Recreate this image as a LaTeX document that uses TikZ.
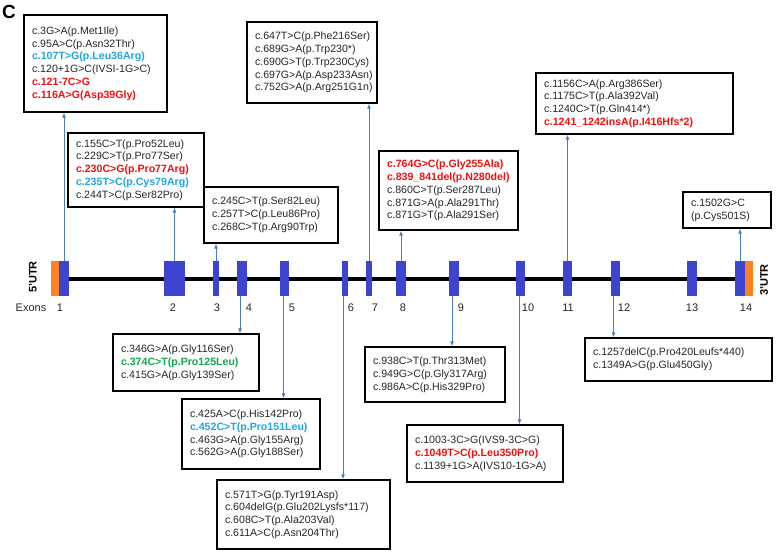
\documentclass[tikz,border=0pt]{standalone}
\usepackage{fontspec}
\setmainfont{Liberation Sans}
\usetikzlibrary{arrows.meta}
\definecolor{exblue}{HTML}{3D44CF}
\definecolor{utr}{HTML}{FF8122}
\definecolor{conn}{HTML}{4A7EBB}
\definecolor{mred}{HTML}{F01010}
\definecolor{mcyan}{HTML}{1FA6E2}
\definecolor{mgreen}{HTML}{10A850}
\newcommand\fs{\fontsize{10.6}{12.8}\selectfont}
\newcommand\rd[1]{\textbf{\color{mred}#1}}
\newcommand\cy[1]{\textbf{\color{mcyan}#1}}
\newcommand\gr[1]{\textbf{\color{mgreen}#1}}
\tikzset{
  mb/.style={draw=black, line width=1.2pt, fill=white, inner xsep=8pt, inner ysep=0pt, align=left, font=\fs, text=black!85},
  exon/.style={fill=exblue, draw=none, inner sep=0pt, minimum height=35pt},
  utrbox/.style={fill=utr, draw=none, inner sep=0pt, minimum height=35pt, minimum width=8pt},
  cn/.style={draw=conn, line width=0.9pt, -{Latex[length=5pt,width=4pt]}},
  num/.style={font=\fontsize{11}{13}\selectfont, inner sep=0pt, text=black!85},
}
\begin{document}
\begin{tikzpicture}[x=1pt,y=-1pt]
\useasboundingbox (0,0) rectangle (776,552);
% main line
\coordinate (ls) at (64,279);
\coordinate (le) at (740,279);
\draw[line width=3.5pt] (ls) -- (le);
% exons
\node[utrbox] (u5) at (55,278.5) {};
\node[exon, minimum width=10pt] (e1) at (64,278.5) {};
\node[exon, minimum width=21pt] (e2) at (174.5,278.5) {};
\node[exon, minimum width=6pt] (e3) at (216,278.5) {};
\node[exon, minimum width=10pt] (e4) at (242,278.5) {};
\node[exon, minimum width=9pt] (e5) at (284.5,278.5) {};
\node[exon, minimum width=6pt] (e6) at (345,278.5) {};
\node[exon, minimum width=6pt] (e7) at (369,278.5) {};
\node[exon, minimum width=10pt] (e8) at (401,278.5) {};
\node[exon, minimum width=10pt] (e9) at (454,278.5) {};
\node[exon, minimum width=9pt] (e10) at (520.5,278.5) {};
\node[exon, minimum width=9pt] (e11) at (567.5,278.5) {};
\node[exon, minimum width=9pt] (e12) at (615.5,278.5) {};
\node[exon, minimum width=10pt] (e13) at (692,278.5) {};
\node[exon, minimum width=10pt] (e14) at (740,278.5) {};
\node[utrbox] (u3) at (749,278.5) {};
% UTR labels
\node[rotate=90, font=\bfseries\fontsize{11}{13}\selectfont, inner sep=0pt] (t5) at (33,277) {5'UTR};
\node[rotate=90, font=\bfseries\fontsize{11}{13}\selectfont, inner sep=0pt] (t3) at (764,280) {3'UTR};
\node[font=\bfseries\fontsize{19}{21}\selectfont, inner sep=0pt] (lc) at (9,12) {C};
% exon numbers
\node[num] (ex) at (31,308) {Exons};
\node[num] (n1) at (60,308) {1};
\node[num] (n2) at (173,308) {2};
\node[num] (n3) at (217,308) {3};
\node[num] (n4) at (249,308) {4};
\node[num] (n5) at (292,308) {5};
\node[num] (n6) at (351,308) {6};
\node[num] (n7) at (375,308) {7};
\node[num] (n8) at (403,308) {8};
\node[num] (n9) at (461,308) {9};
\node[num] (n10) at (528,308) {10};
\node[num] (n11) at (568,308) {11};
\node[num] (n12) at (624,308) {12};
\node[num] (n13) at (692,308) {13};
\node[num] (n14) at (746,308) {14};
% boxes
\node[mb, text width=127pt, minimum height=97pt] (b1) at (95.5,63.5) {c.3G>A(p.Met1Ile)\\c.95A>C(p.Asn32Thr)\\\cy{c.107T>G(p.Leu36Arg)}\\c.120+1G>C(IVSI-1G>C)\\\rd{c.121-7C>G}\\\rd{c.116A>G(Asp39Gly)}};
\node[mb, text width=120pt, minimum height=74pt] (b2) at (136,170) {c.155C>T(p.Pro52Leu)\\c.229C>T(p.Pro77Ser)\\\rd{c.230C>G(p.Pro77Arg)}\\\cy{c.235T>C(p.Cys79Arg)}\\c.244T>C(p.Ser82Pro)};
\node[mb, text width=118pt, minimum height=56pt] (b3) at (271,215) {c.245C>T(p.Ser82Leu)\\c.257T>C(p.Leu86Pro)\\c.268C>T(p.Arg90Trp)};
\node[mb, text width=130pt, minimum height=57pt] (b4) at (186,362.5) {c.346G>A(p.Gly116Ser)\\\gr{c.374C>T(p.Pro125Leu)}\\c.415G>A(p.Gly139Ser)};
\node[mb, text width=122pt, minimum height=70pt] (b5) at (251,434) {c.425A>C(p.His142Pro)\\\cy{c.452C>T(p.Pro151Leu)}\\c.463G>A(p.Gly155Arg)\\c.562G>A(p.Gly188Ser)};
\node[mb, text width=157pt, minimum height=69pt] (b6) at (303.5,514.5) {c.571T>G(p.Tyr191Asp)\\c.604delG(p.Glu202Lysfs*117)\\c.608C>T(p.Ala203Val)\\c.611A>C(p.Asn204Thr)};
\node[mb, text width=114pt, minimum height=81pt] (b7) at (312,62.5) {c.647T>C(p.Phe216Ser)\\c.689G>A(p.Trp230*)\\c.690G>T(p.Trp230Cys)\\c.697G>A(p.Asp233Asn)\\c.752G>A(p.Arg251G1n)};
\node[mb, text width=123pt, minimum height=79pt] (b8) at (448.5,190.5) {\rd{c.764G>C(p.Gly255Ala)}\\\rd{c.839\_841del(p.N280del)}\\c.860C>T(p.Ser287Leu)\\c.871G>A(p.Ala291Thr)\\c.871G>T(p.Ala291Ser)};
\node[mb, text width=124pt, minimum height=55pt] (b9) at (435,374.5) {c.938C>T(p.Thr313Met)\\c.949G>C(p.Gly317Arg)\\c.986A>C(p.His329Pro)};
\node[mb, text width=140pt, minimum height=57pt] (b10) at (485,453.5) {c.1003-3C>G(IVS9-3C>G)\\\rd{c.1049T>C(p.Leu350Pro)}\\c.1139+1G>A(IVS10-1G>A)};
\node[mb, text width=181pt, minimum height=61pt] (b11) at (634.5,103.5) {c.1156C>A(p.Arg386Ser)\\c.1175C>T(p.Ala392Val)\\c.1240C>T(p.Gln414*)\\\rd{c.1241\_1242insA(p.I416Hfs*2)}};
\node[mb, text width=171pt, minimum height=43pt] (b12) at (678.5,359.5) {c.1257delC(p.Pro420Leufs*440)\\c.1349A>G(p.Glu450Gly)};
\node[mb, text width=72pt, minimum height=36pt] (b13) at (727,210) {c.1502G>C\\(p.Cys501S)};
% connectors
\draw[cn] (e1.north) -- (e1.north |- b1.south);
\draw[cn] (e2.north) -- (e2.north |- b2.south);
\draw[cn] (e3.north) -- (e3.north |- b3.south);
\draw[cn] (e7.north) -- (e7.north |- b7.south);
\draw[cn] (e8.north) -- (e8.north |- b8.south);
\draw[cn] (e11.north) -- (e11.north |- b11.south);
\draw[cn] (e14.north) -- (e14.north |- b13.south);
\draw[cn] ([xshift=-2pt]e4.south) -- ([xshift=-2pt]e4.south |- b4.north);
\draw[cn] ([xshift=-1pt]e5.south) -- ([xshift=-1pt]e5.south |- b5.north);
\draw[cn] ([xshift=-2pt]e6.south) -- ([xshift=-2pt]e6.south |- b6.north);
\draw[cn] ([xshift=-2pt]e9.south) -- ([xshift=-2pt]e9.south |- b9.north);
\draw[cn] ([xshift=-1pt]e10.south) -- ([xshift=-1pt]e10.south |- b10.north);
\draw[cn] ([xshift=-2pt]e12.south) -- ([xshift=-2pt]e12.south |- b12.north);
\end{tikzpicture}
\end{document}
